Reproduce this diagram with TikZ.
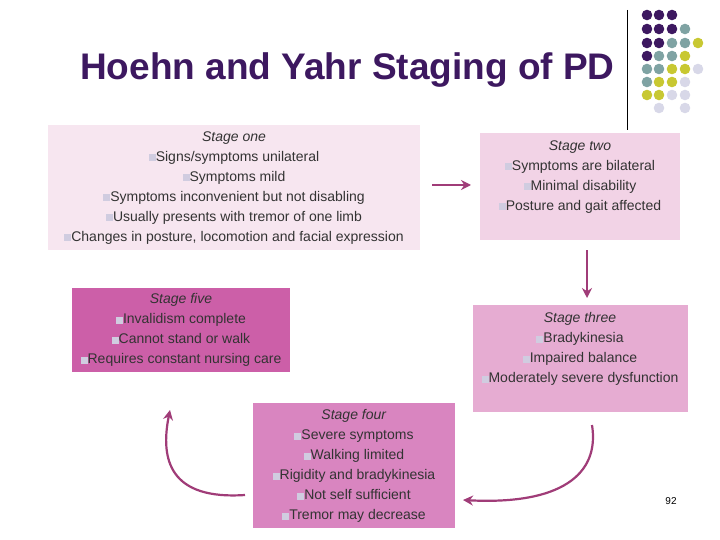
\documentclass[tikz,border=0pt]{standalone}
\usepackage{fontspec}
\setmainfont{Liberation Sans}
\usetikzlibrary{arrows.meta}
\begin{document}
\definecolor{ttl}{HTML}{3D1860}
\definecolor{dP}{HTML}{3D1860}
\definecolor{dT}{HTML}{7FA3A3}
\definecolor{dY}{HTML}{C8C832}
\definecolor{dL}{HTML}{D8D8E8}
\definecolor{bul}{HTML}{D0CCE0}
\definecolor{arr}{HTML}{A03C78}
\newcommand{\bu}{\textcolor{bul}{\rule{7pt}{7pt}}}
\begin{tikzpicture}[x=1pt,y=-1pt,
  txt/.style={align=center,font=\fontsize{14}{20}\selectfont,text=black!80},
  ar/.style={draw=arr,line width=2.2pt,-{Stealth[length=10pt,width=10pt]}}]
\useasboundingbox (0,0) rectangle (720,540);
\fill[white] (0,0) rectangle (720,540);
\draw[black] (627,10) -- (627,130);
\foreach \x/\y/\col in {647/15/dP,659/15/dP,672/15/dP,
 647/29/dP,659/29/dP,672/29/dP,685/29/dT,
 647/43/dP,659/43/dP,672/43/dT,685/43/dT,698/43/dY,
 647/56/dP,659/56/dT,672/56/dT,685/56/dY,
 647/69/dT,659/69/dT,672/69/dY,685/69/dY,698/69/dL,
 647/82/dT,659/82/dY,672/82/dY,685/82/dL,
 647/95/dY,659/95/dY,672/95/dL,685/95/dL,
 659/108/dL,685/108/dL}{\fill[\col] (\x,\y) circle (5.3);}
\node[font=\bfseries\fontsize{37}{40}\selectfont,text=ttl,anchor=base west,inner sep=0pt] (title) at (80,80) {Hoehn and Yahr Staging of PD};
\fill[fill={rgb,255:red,247;green,230;blue,240}] (48,125) rectangle (420,250);
\node[txt] (one) at (234,188) {\textit{Stage one}\\\bu Signs/symptoms unilateral\\\bu Symptoms mild\\\bu Symptoms inconvenient but not disabling\\\bu Usually presents with tremor of one limb\\\bu Changes in posture, locomotion and facial expression};
\fill[fill={rgb,255:red,242;green,211;blue,230}] (480,133) rectangle (680,240);
\node[txt] (two) at (580,177) {\textit{Stage two}\\\bu Symptoms are bilateral\\\bu Minimal disability\\\bu Posture and gait affected};
\fill[fill={rgb,255:red,204;green,95;blue,168}] (72,288) rectangle (290,372);
\node[txt] (five) at (181,330) {\textit{Stage five}\\\bu Invalidism complete\\\bu Cannot stand or walk\\\bu Requires constant nursing care};
\fill[fill={rgb,255:red,230;green,172;blue,210}] (473,305) rectangle (688,412);
\node[txt] (three) at (580,349) {\textit{Stage three}\\\bu Bradykinesia\\\bu Impaired balance\\\bu Moderately severe dysfunction};
\fill[fill={rgb,255:red,217;green,133;blue,192}] (253,403) rectangle (455,528);
\node[txt] (four) at (354,466) {\textit{Stage four}\\\bu Severe symptoms\\\bu Walking limited\\\bu Rigidity and bradykinesia\\\bu Not self sufficient\\\bu Tremor may decrease};
\node[font=\fontsize{10}{12}\selectfont] (pg) at (671,501) {92};
\coordinate (a1) at (432,185); \coordinate (b1) at (471,185);
\draw[ar] (a1) -- (b1);
\coordinate (a2) at (587,250); \coordinate (b2) at (587,298);
\draw[ar] (a2) -- (b2);
\coordinate (a3) at (592,425); \coordinate (b3) at (463,500);
\draw[ar] (a3) .. controls (600,475) and (560,505) .. (b3);
\coordinate (a4) at (245,495); \coordinate (b4) at (170,410);
\draw[ar] (a4) .. controls (170,500) and (160,460) .. (b4);
\end{tikzpicture}
\end{document}
